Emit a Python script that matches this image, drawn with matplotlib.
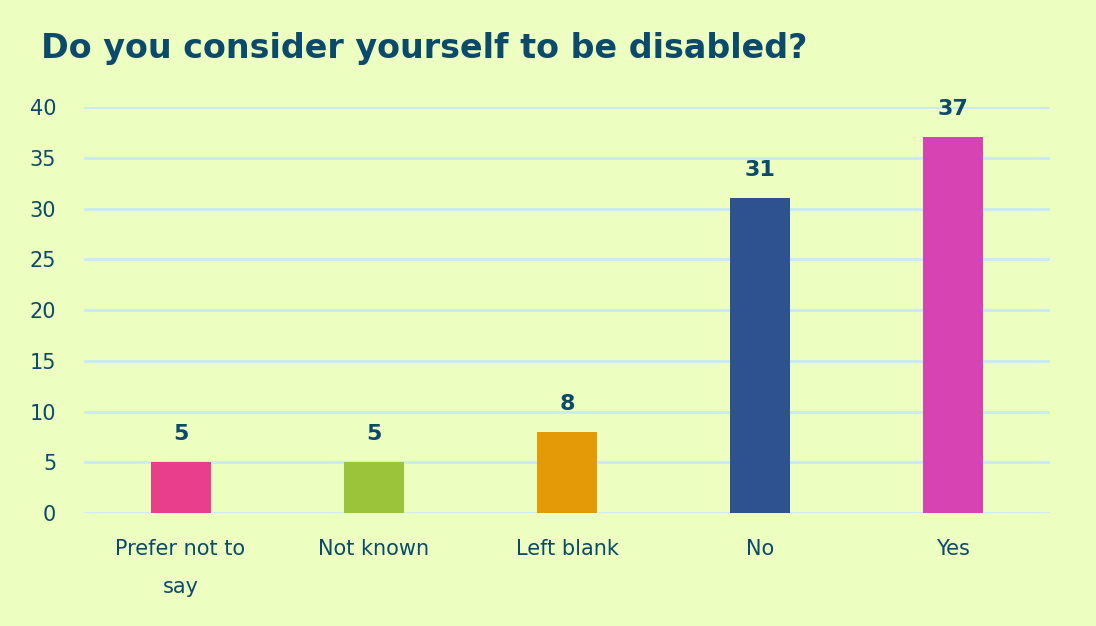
import matplotlib.pyplot as plt
import numpy as np

categories = ["Prefer not to\nsay", "Not known", "Left blank", "No", "Yes"]
values = [5, 5, 8, 31, 37]
colors = ["#E83E8C", "#9BC43A", "#E39A06", "#2E5190", "#D843B4"]
yticks = [0, 5, 10, 15, 20, 25, 30, 35, 40]

BG = "#EDFEC1"
TXT = "#0B4A6A"
GRID = "#C8EAF5"

fig = plt.figure(figsize=(10.96, 6.26), dpi=100, facecolor=BG)
ax = fig.add_axes([0.0766, 0.1805, 0.8814, 0.6485])
ax.set_facecolor(BG)

ind = np.arange(len(categories))
ax.bar(ind, values, 0.31, color=colors, zorder=3)
for i, v in zip(ind, values):
    ax.annotate(str(v), (i, v), xytext=(0, 13), textcoords="offset points",
                ha="center", va="bottom", fontsize=16, fontweight="bold", color=TXT)

ax.set_xlim(-0.5, len(categories) - 0.5)
ax.set_ylim(0, 40)
ax.set_yticks(yticks)
ax.set_xticks(ind)
ax.set_xticklabels(categories, linespacing=2.1)
ax.yaxis.grid(True, color=GRID, linewidth=2, zorder=0)
ax.tick_params(axis="both", length=0, labelsize=15, labelcolor=TXT)
ax.tick_params(axis="y", pad=20)
ax.tick_params(axis="x", pad=19)
for s in ax.spines.values():
    s.set_visible(False)

fig.text(0.037, 0.923, "Do you consider yourself to be disabled?", fontsize=24,
         fontweight="bold", color=TXT, va="center", ha="left")

fig.savefig("out.png", dpi=100, facecolor=BG)
